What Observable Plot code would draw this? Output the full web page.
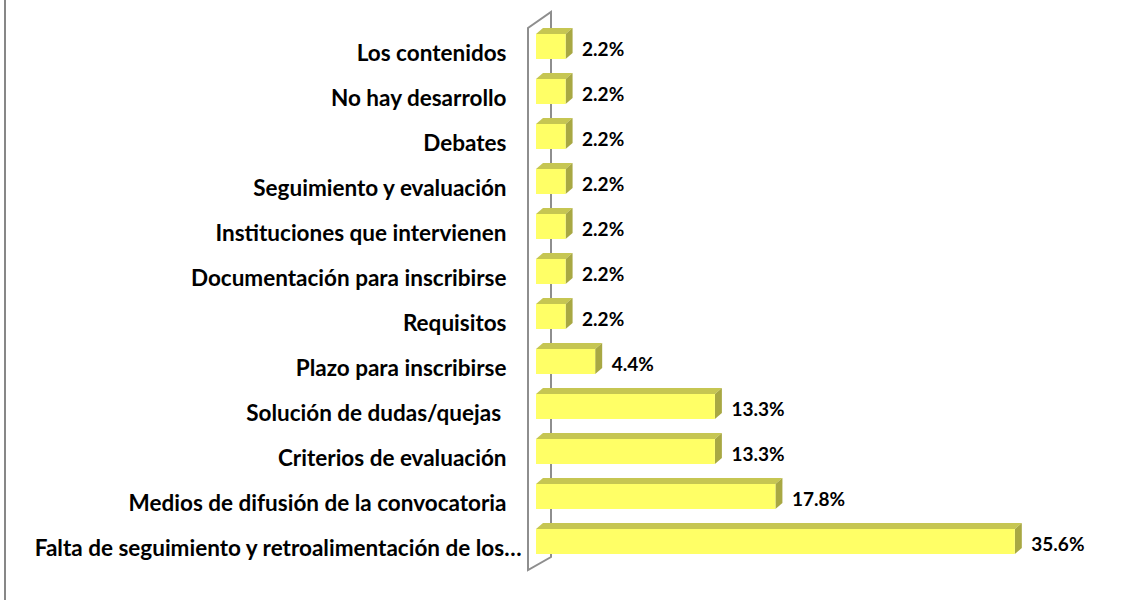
<!DOCTYPE html>
<html><head><meta charset="utf-8">
<script src="https://cdn.jsdelivr.net/npm/d3@7"></script>
<script src="https://cdn.jsdelivr.net/npm/@observablehq/plot@0.6"></script>
<style>
body{margin:0;background:#fff;}
#wrap{position:relative;width:1122px;height:600px;overflow:hidden;background:#fff;}
#border{position:absolute;left:4px;top:0;width:2px;height:600px;background:#878787;}
#wrap svg{position:absolute;left:0;top:0;}
</style></head><body>
<div id="wrap"><div id="border"></div></div>
<script>
const categories = [
  "Los contenidos",
  "No hay desarrollo",
  "Debates",
  "Seguimiento y evaluación",
  "Instituciones que intervienen",
  "Documentación para inscribirse",
  "Requisitos",
  "Plazo para inscribirse",
  "Solución de dudas/quejas ",
  "Criterios de evaluación",
  "Medios de difusión de la convocatoria",
  "Falta de seguimiento y retroalimentación de los…"
];
const values = [2.2, 2.2, 2.2, 2.2, 2.2, 2.2, 2.2, 4.4, 13.3, 13.3, 17.8, 35.6];
const xDomain = [0, 40];

const data = categories.map((c, i) => ({cat: c, value: values[i]}));
const truncated = data.filter(d => d.cat.endsWith("…"));
const full = data.filter(d => !d.cat.endsWith("…"));
const DX = 7, DY = -6;
const FONT = "Lato, 'Open Sans', sans-serif";

function wall() {
  return (index, scales) => {
    const x0 = scales.x(0);
    const [ya, yb] = scales.y.range();
    const g = d3.create("svg:g").attr("fill", "none").attr("stroke", "#8e8e8e").attr("stroke-width", 2);
    const fx = x0 - 8, bx = x0 + 15, ft = ya + 6, fb = yb + 4.5, bt = ft - 16, bb = fb - 13;
    g.append("path").attr("d", `M${fx},${fb}V${ft}L${bx},${bt}V${bb}Z`);
    return g.node();
  };
}

function faces() {
  return (index, scales) => {
    const g = d3.create("svg:g");
    const bw = scales.y.bandwidth();
    for (const d of data) {
      const x0 = scales.x(0), x1 = scales.x(d.value), y0 = scales.y(d.cat), y1 = y0 + bw;
      g.append("path").attr("fill", "#c6c652")
        .attr("d", `M${x0},${y0}L${x0 + DX},${y0 + DY}H${x1 + DX}L${x1},${y0}Z`);
      g.append("path").attr("fill", "#a8a843")
        .attr("d", `M${x1},${y0}L${x1 + DX},${y0 + DY}V${y1 + DY}L${x1},${y1}Z`);
    }
    return g.node();
  };
}

const labelOpts = {x: d => 0, y: "cat", text: "cat", textAnchor: "end", fontWeight: "bold",
  fontSize: 22.5, fill: "black", dy: 7};

const chart = Plot.plot({
  width: 1122,
  height: 600,
  marginLeft: 536,
  marginRight: 48,
  marginTop: 22,
  marginBottom: 34.5,
  style: {fontFamily: FONT, color: "black", background: "transparent"},
  x: {domain: xDomain, axis: null},
  y: {type: "band", domain: categories, paddingInner: 0.448, paddingOuter: 0.224, axis: null},
  marks: [
    wall(),
    faces(),
    Plot.barX(data, {x: "value", y: "cat", fill: "#ffff66"}),
    Plot.text(full, {...labelOpts, dx: -30}),
    Plot.text(truncated, {...labelOpts, dx: -15}),
    Plot.text(data, {x: "value", y: "cat", text: d => d.value.toFixed(1) + "%", dx: DX + 9, dy: 3,
      textAnchor: "start", fontWeight: "bold", fontSize: 19, fill: "black"})
  ]
});
document.getElementById("wrap").appendChild(chart);
</script>
</body></html>
